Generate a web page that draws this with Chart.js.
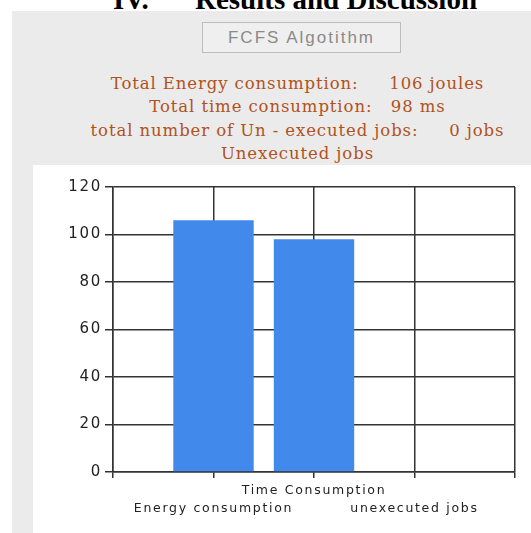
<!DOCTYPE html>
<html>
<head>
<meta charset="utf-8">
<script src="https://cdn.jsdelivr.net/npm/chart.js@4"></script>
<style>
    body { margin: 0; width: 531px; height: 533px; overflow: hidden; background: #fff; position: relative; }
    .head { position: absolute; top: -15px; font: bold 29px "Liberation Serif", serif; line-height: 29px; color: #000; white-space: pre; }
    .panel { position: absolute; left: 12px; top: 11px; right: 0; bottom: 0; background: #ebebeb; }
    .btn { position: absolute; left: 202px; top: 22px; width: 197px; height: 29px; border: 1px solid #bdbdbd; background: #efefef;
           color: #8a8a8a; font: 17px "Liberation Sans", Arial, sans-serif; letter-spacing: 2px; line-height: 29px; text-align: center; }
    .info { position: absolute; left: 0; width: 595px; top: 72px; text-align: center; color: #b0521c;
            font: 16.5px "DejaVu Serif", serif; letter-spacing: 0.9px; line-height: 23.3px; white-space: pre; }
    .box { position: absolute; left: 33px; top: 165px; width: 498px; height: 368px; background: #fff; }
</style>
</head>
<body>
<div class="head" style="left:113px">IV.</div>
<div class="head" style="left:195px">Results and Discussion</div>
<div class="panel"></div>
<div class="btn">FCFS Algotithm</div>
<div class="info">Total Energy consumption:     106 joules
Total time consumption:   98 ms
total number of Un - executed jobs:     0 jobs
Unexecuted jobs</div>
<div class="box"><canvas id="jobsChart" width="498" height="368"></canvas></div>

<script>
// chart values
const categories = ['Energy consumption', 'Time Consumption', 'unexecuted jobs'];
const values = [106, 98, 0];
const yMin = 0;
const yMax = 120;
const yStep = 20;

// labels are staggered on two rows, the middle one on top
const labelRows = [1, 0, 1];

// the axis text in the picture is drawn wide, so space the letters out a bit
const wideText = {
    id: 'wideText',
    beforeDraw(chart) {
        chart.ctx.letterSpacing = '1.7px';
    }
};

document.addEventListener("DOMContentLoaded", () => {
    const ctx = document.querySelector('#jobsChart').getContext('2d');

    // empty slots at both ends so the categories sit on the inner gridlines
    const labels = [''];
    const data = [null];
    categories.forEach((cat, i) => {
        labels.push(labelRows[i] === 0 ? [cat, ''] : ['', cat]);
        data.push(values[i]);
    });
    labels.push('');
    data.push(null);

    const gridColor = '#333';

    new Chart(ctx, {
        type: 'bar',
        data: {
            labels: labels,
            datasets: [{
                label: 'Unexecuted jobs',
                data: data,
                backgroundColor: '#4189ea',
                borderWidth: 0,
                barPercentage: 1,
                categoryPercentage: 0.8
            }]
        },
        options: {
            responsive: false,
            animation: false,
            layout: { padding: { top: 22, right: 16, bottom: 0, left: 0 } },
            plugins: { legend: { display: false }, tooltip: { enabled: false } },
            scales: {
                x: {
                    offset: false,
                    grid: { offset: false, color: gridColor, lineWidth: 1.5, tickLength: 6 },
                    border: { color: gridColor, width: 1.5 },
                    ticks: {
                        autoSkip: false, maxRotation: 0, minRotation: 0, padding: 3,
                        color: '#222',
                        font: { family: 'DejaVu Sans', size: 12.5, lineHeight: 1.5 }
                    },
                    afterFit: (scale) => { scale.height = 61; }
                },
                y: {
                    min: yMin, max: yMax,
                    grid: { color: gridColor, lineWidth: 1.5, tickLength: 8 },
                    border: { color: gridColor, width: 1.5 },
                    ticks: {
                        stepSize: yStep, padding: 3, color: '#222',
                        font: { family: 'DejaVu Sans', size: 15 }
                    },
                    afterFit: (scale) => { scale.width = 80; }
                }
            }
        },
        plugins: [wideText]
    });
});
</script>
</body>
</html>
